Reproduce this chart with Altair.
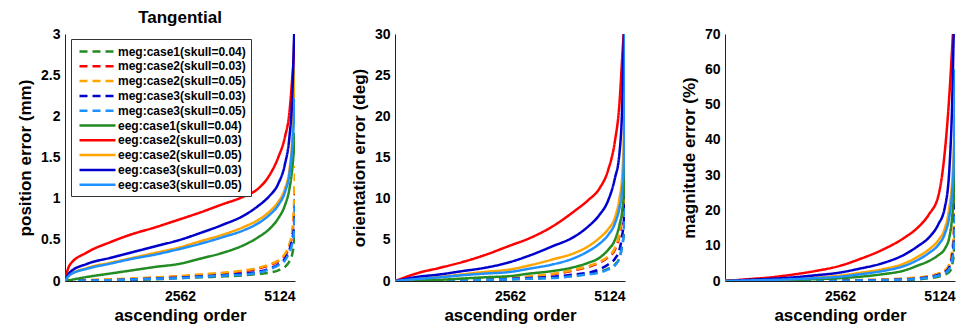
import altair as alt
import pandas as pd

# ranks (ascending order index) at which values were read
ranks = [0, 100, 500, 1000, 1500, 2000, 2562, 3000, 3500, 4000, 4300, 4550, 4750, 4900, 5000, 5060, 5100, 5124]

series = [
    "meg:case1(skull=0.04)", "meg:case2(skull=0.03)", "meg:case2(skull=0.05)",
    "meg:case3(skull=0.03)", "meg:case3(skull=0.05)",
    "eeg:case1(skull=0.04)", "eeg:case2(skull=0.03)", "eeg:case2(skull=0.05)",
    "eeg:case3(skull=0.03)", "eeg:case3(skull=0.05)",
]
colors = ["#228B22", "#FF0000", "#FFA500", "#0000CD", "#1E90FF",
          "#228B22", "#FF0000", "#FFA500", "#0000CD", "#1E90FF"]
dashes = [[8, 5]] * 5 + [[1, 0]] * 5

# position error (mm)
pos_meg1 = [0, 0, 0.005, 0.01, 0.015, 0.02, 0.035, 0.045, 0.055, 0.07, 0.085, 0.10, 0.13, 0.17, 0.24, 0.32, 0.45, 0.6]
pos_meg2a = [0, 0, 0.008, 0.015, 0.025, 0.04, 0.055, 0.07, 0.09, 0.12, 0.15, 0.19, 0.24, 0.31, 0.42, 0.56, 0.8, 1.2]
pos_meg2b = [0, 0, 0.01, 0.02, 0.03, 0.045, 0.06, 0.08, 0.10, 0.13, 0.16, 0.20, 0.25, 0.33, 0.45, 0.6, 0.9, 1.4]
pos_meg3a = [0, 0, 0.005, 0.01, 0.02, 0.03, 0.04, 0.055, 0.07, 0.09, 0.11, 0.15, 0.20, 0.27, 0.38, 0.5, 0.65, 0.9]
pos_meg3b = [0, 0, 0.005, 0.01, 0.018, 0.027, 0.035, 0.05, 0.065, 0.08, 0.10, 0.14, 0.19, 0.25, 0.35, 0.45, 0.6, 1.0]
pos_eeg1 = [0, 0.01, 0.05, 0.09, 0.13, 0.17, 0.21, 0.27, 0.34, 0.44, 0.53, 0.63, 0.76, 0.92, 1.12, 1.35, 1.6, 1.8]
pos_eeg2a = [0, 0.19, 0.35, 0.47, 0.57, 0.65, 0.75, 0.83, 0.93, 1.03, 1.12, 1.28, 1.5, 1.75, 2.05, 2.45, 2.8, 3.3]
pos_eeg2b = [0, 0.07, 0.16, 0.22, 0.28, 0.34, 0.41, 0.48, 0.56, 0.66, 0.74, 0.84, 0.96, 1.12, 1.35, 1.7, 2.2, 2.6]
pos_eeg3a = [0, 0.10, 0.21, 0.28, 0.35, 0.42, 0.50, 0.58, 0.68, 0.80, 0.91, 1.03, 1.18, 1.42, 1.75, 2.2, 2.9, 3.4]
pos_eeg3b = [0, 0.07, 0.15, 0.21, 0.27, 0.32, 0.39, 0.45, 0.53, 0.62, 0.70, 0.80, 0.92, 1.08, 1.3, 1.6, 1.95, 2.22]

# orientation error (deg)
ori_meg1 = [0, 0, 0.02, 0.05, 0.09, 0.14, 0.2, 0.28, 0.4, 0.65, 0.85, 1.1, 1.5, 2.0, 2.8, 4.3, 6.0, 9.0]
ori_meg2a = [0, 0, 0.03, 0.07, 0.12, 0.2, 0.3, 0.5, 0.8, 1.3, 1.7, 2.2, 2.9, 3.8, 5.5, 7.5, 9.5, 13]
ori_meg2b = [0, 0, 0.03, 0.08, 0.14, 0.23, 0.35, 0.55, 0.85, 1.4, 1.8, 2.3, 3.0, 4.0, 5.8, 8.0, 10, 14]
ori_meg3a = [0, 0, 0.02, 0.06, 0.1, 0.16, 0.25, 0.35, 0.5, 0.8, 1.0, 1.4, 2.0, 2.7, 3.8, 5.5, 7.5, 11]
ori_meg3b = [0, 0, 0.02, 0.05, 0.09, 0.14, 0.2, 0.28, 0.35, 0.6, 0.8, 1.0, 1.4, 1.9, 2.8, 4.2, 6.0, 9.0]
ori_eeg1 = [0, 0, 0.08, 0.15, 0.3, 0.45, 0.6, 0.9, 1.2, 1.7, 2.2, 2.8, 3.8, 5.0, 6.8, 8.5, 11, 20]
ori_eeg2a = [0, 0.2, 0.95, 1.6, 2.3, 3.15, 4.3, 5.2, 6.6, 8.5, 9.8, 11.2, 13.5, 17, 21.5, 27, 31, 35]
ori_eeg2b = [0, 0.05, 0.3, 0.5, 0.8, 1.1, 1.4, 1.9, 2.6, 3.4, 4.2, 5.2, 6.3, 7.7, 10, 12.5, 18, 25]
ori_eeg3a = [0, 0.1, 0.5, 0.8, 1.2, 1.6, 2.3, 3.1, 4.2, 5.4, 6.6, 8.0, 9.8, 12.5, 15.5, 21, 30, 34]
ori_eeg3b = [0, 0.05, 0.25, 0.45, 0.7, 0.9, 1.1, 1.5, 2.0, 2.8, 3.6, 4.5, 5.6, 7.0, 8.9, 11, 15, 30]

# magnitude error (%)
mag_meg1 = [0, 0, 0.005, 0.01, 0.02, 0.03, 0.05, 0.1, 0.15, 0.3, 0.45, 0.8, 1.2, 1.8, 2.6, 4.5, 8, 15]
mag_meg2a = [0, 0, 0.01, 0.02, 0.04, 0.06, 0.1, 0.2, 0.35, 0.6, 0.9, 1.3, 2.0, 2.8, 4.5, 8, 14, 25]
mag_meg2b = [0, 0, 0.01, 0.02, 0.05, 0.08, 0.12, 0.25, 0.4, 0.7, 1.0, 1.4, 2.1, 3.0, 4.8, 8.5, 15, 27]
mag_meg3a = [0, 0, 0.005, 0.01, 0.03, 0.05, 0.08, 0.15, 0.25, 0.45, 0.7, 1.1, 1.7, 2.5, 4.0, 7, 12, 22]
mag_meg3b = [0, 0, 0.005, 0.01, 0.02, 0.04, 0.07, 0.12, 0.2, 0.4, 0.6, 1.0, 1.5, 2.2, 3.5, 6, 10, 20]
mag_eeg1 = [0, 0, 0.05, 0.15, 0.3, 0.5, 0.8, 1.2, 1.9, 3.0, 4.4, 5.7, 7.3, 9.2, 12.5, 18, 25, 35]
mag_eeg2a = [0, 0.1, 0.5, 1.0, 1.8, 2.8, 4.3, 6.2, 8.8, 12.3, 15.2, 19, 24, 37, 53, 66, 75, 80]
mag_eeg2b = [0, 0.02, 0.15, 0.35, 0.6, 1.0, 1.5, 2.3, 3.3, 5.0, 6.9, 9, 11.5, 15, 21, 28, 38, 50]
mag_eeg3a = [0, 0.05, 0.3, 0.6, 1.0, 1.6, 2.4, 3.5, 5.0, 7.5, 9.9, 12.4, 16, 21, 32, 50, 72, 80]
mag_eeg3b = [0, 0.02, 0.15, 0.3, 0.5, 0.8, 1.2, 1.9, 2.8, 4.3, 6.0, 8.0, 10.2, 13.5, 18.5, 25, 35, 60]

panels = [
    ("position error (mm)", [0, 3], [0, 0.5, 1, 1.5, 2, 2.5, 3],
     [pos_meg1, pos_meg2a, pos_meg2b, pos_meg3a, pos_meg3b, pos_eeg1, pos_eeg2a, pos_eeg2b, pos_eeg3a, pos_eeg3b]),
    ("orientation error (deg)", [0, 30], [0, 5, 10, 15, 20, 25, 30],
     [ori_meg1, ori_meg2a, ori_meg2b, ori_meg3a, ori_meg3b, ori_eeg1, ori_eeg2a, ori_eeg2b, ori_eeg3a, ori_eeg3b]),
    ("magnitude error (%)", [0, 70], [0, 10, 20, 30, 40, 50, 60, 70],
     [mag_meg1, mag_meg2a, mag_meg2b, mag_meg3a, mag_meg3b, mag_eeg1, mag_eeg2a, mag_eeg2b, mag_eeg3a, mag_eeg3b]),
]
x_ticks = [2562, 5124]

FONT = "Liberation Sans"

charts = []
for i, (ytitle, ydom, yticks, vals) in enumerate(panels):
    rows = []
    for s, v in zip(series, vals):
        for r, y in zip(ranks, v):
            rows.append({"rank": r, "value": y, "series": s})
    df = pd.DataFrame(rows)
    legend = None
    if i == 0:
        legend = alt.Legend(
            title=None, orient="none", legendX=6, legendY=5,
            strokeColor="#333333", fillColor="white", padding=5,
            symbolType="M-3,0H3", symbolSize=144, symbolStrokeWidth=2.5,
            symbolOffset=14, labelOffset=13,
            labelFont=FONT, labelFontWeight="bold", labelFontSize=12,
            labelColor="black", rowPadding=0.8, labelLimit=300,
        )
    c = alt.Chart(df).mark_line(clip=True, strokeWidth=2.5, interpolate="monotone").encode(
        x=alt.X("rank:Q", scale=alt.Scale(domain=[0, 5124], nice=False),
                axis=alt.Axis(values=x_ticks, title="ascending order", format="d",
                              ticks=False, labelPadding=8, titlePadding=4, grid=False)),
        y=alt.Y("value:Q", scale=alt.Scale(domain=ydom, nice=False),
                axis=alt.Axis(values=yticks, title=ytitle, labelExpr="'' + datum.value",
                              ticks=False, labelPadding=5, titlePadding=6, grid=False)),
        color=alt.Color("series:N", sort=series,
                        scale=alt.Scale(domain=series, range=colors), legend=legend),
        strokeDash=alt.StrokeDash("series:N", sort=series,
                                  scale=alt.Scale(domain=series, range=dashes), legend=legend),
        order=alt.Order("rank:Q"),
    ).properties(width=230, height=247)
    if i == 0:
        c = c.properties(title=alt.TitleParams("Tangential", fontSize=17, font=FONT,
                                               fontWeight="bold", offset=0))
    charts.append(c)

chart = alt.hconcat(*charts, spacing=100, bounds="flush").properties(
    padding={"left": 16, "top": 9, "right": 10, "bottom": 5}
).configure_view(stroke=None).configure_axis(
    labelFont=FONT, labelFontSize=14, labelFontWeight="bold", labelColor="black",
    titleFont=FONT, titleFontSize=17, titleFontWeight="bold", titleColor="black",
    domainColor="#222222", domainWidth=1,
).configure_title(anchor="middle", color="black")

chart.save("out.html", embed_options={"renderer": "svg", "actions": False})
